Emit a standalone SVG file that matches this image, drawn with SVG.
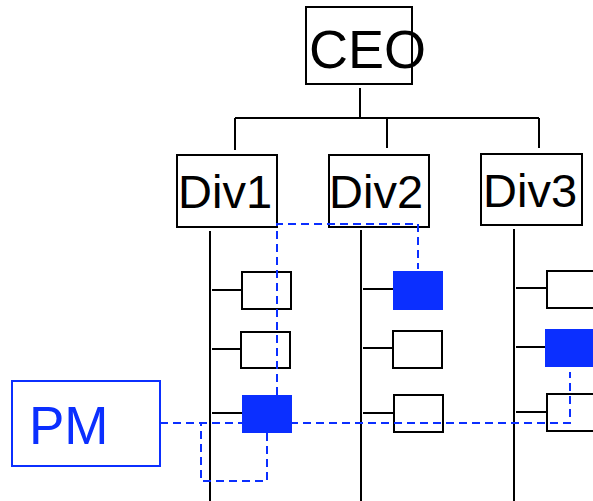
<svg xmlns="http://www.w3.org/2000/svg" width="593" height="501" viewBox="0 0 593 501">
<style>
.box{fill:#fff;stroke:#000;stroke-width:2}
.fill{fill:#0b2fff;stroke:none}
.ln{fill:none;stroke:#000;stroke-width:2}
.dash{fill:none;stroke:#0b2fff;stroke-width:2;stroke-dasharray:8 5}
.t{font-family:"Liberation Sans",Arial,sans-serif;fill:#000}
</style>
<rect width="593" height="501" fill="#fff"/>
<g id="ceo"><rect class="box" x="306" y="7" width="106" height="77"/><text class="t" x="309" y="68" font-size="54">CEO</text></g>
<g id="div1"><rect class="box" x="177" y="155" width="100" height="72"/><text class="t" x="178" y="208" font-size="47">Div1</text></g>
<g id="div2"><rect class="box" x="329" y="155" width="100" height="72"/><text class="t" x="329" y="208" font-size="47">Div2</text></g>
<g id="div3"><rect class="box" x="481" y="154" width="101" height="71"/><text class="t" x="483" y="207" font-size="47">Div3</text></g>
<g id="d1a"><rect class="box" x="242" y="272" width="49" height="37"/></g>
<g id="d1b"><rect class="box" x="241" y="332" width="49" height="36"/></g>
<g id="d1c"><rect class="fill" x="242" y="395" width="50" height="38"/></g>
<g id="d2a"><rect class="fill" x="393" y="271" width="50" height="39"/></g>
<g id="d2b"><rect class="box" x="393" y="331" width="49" height="37"/></g>
<g id="d2c"><rect class="box" x="394" y="395" width="49" height="37"/></g>
<g id="d3a"><rect class="box" x="547" y="271" width="50" height="37"/></g>
<g id="d3b"><rect class="fill" x="545" y="329" width="52" height="38"/></g>
<g id="d3c"><rect class="box" x="547" y="394" width="50" height="37"/></g>
<g id="pm"><rect x="12" y="381" width="148" height="85" fill="#fff" stroke="#0b2fff" stroke-width="2"/><text class="t" x="29" y="444" font-size="53" style="fill:#0b2fff">PM</text></g>
<g id="connectors">
<path class="ln" d="M360,88V118M235,118H539M235,118V150M387,118V148M539,118V148"/>
<path class="ln" d="M210,231V501M361,230V501M514,229V501"/>
<path class="ln" d="M212,290H242M212,349H241M212,413H242"/>
<path class="ln" d="M363,289H393M363,348H393M363,413H394"/>
<path class="ln" d="M516,288H547M516,347H545M516,412H547"/>
<path class="dash" d="M160,423H570V372"/>
<path class="dash" d="M267,433V481H201V423"/>
<path class="dash" d="M277,395V224H418V269"/>
</g>
</svg>
